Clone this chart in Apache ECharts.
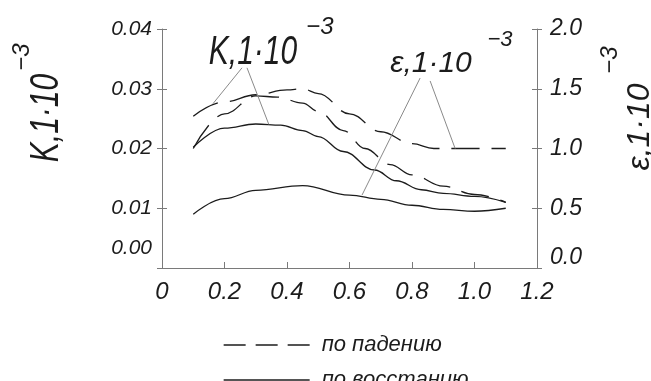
<!DOCTYPE html>
<html>
<head>
<meta charset="utf-8">
<script src="https://cdn.jsdelivr.net/npm/echarts@6/dist/echarts.min.js"></script>
<style>
  html, body { margin: 0; padding: 0; background: #fff; }
  #chart { width: 651px; height: 381px; }
</style>
</head>
<body>
<div id="chart"></div>
<script>
    // x ticks (shared by both value axes below)
    const xTicks = [0, 0.2, 0.4, 0.6, 0.8, 1.0, 1.2];

    // K, по падению (dashed, left axis)
    const xKFall = [0.10, 0.20, 0.30, 0.37, 0.45, 0.50, 0.58, 0.65, 0.73, 0.80, 0.90, 1.00, 1.10];
    const kFall = [0.0200, 0.0258, 0.0288, 0.0286, 0.0276, 0.0262, 0.0230, 0.0200, 0.0173, 0.0156, 0.0137, 0.0123, 0.0110];

    // K, по восстанию (solid, left axis)
    const xKRise = [0.10, 0.20, 0.30, 0.38, 0.45, 0.50, 0.58, 0.68, 0.75, 0.83, 0.90, 1.00, 1.10];
    const kRise = [0.0202, 0.0234, 0.0241, 0.0239, 0.0230, 0.0220, 0.0195, 0.0164, 0.0146, 0.0131, 0.0125, 0.0120, 0.0110];

    // ε, по падению (dashed, right axis)
    const xEFall = [0.10, 0.20, 0.30, 0.40, 0.45, 0.50, 0.60, 0.70, 0.80, 0.87, 0.95, 1.10];
    const eFall = [1.27, 1.39, 1.45, 1.49, 1.50, 1.46, 1.29, 1.14, 1.04, 1.00, 1.00, 1.00];

    // ε, по восстанию (solid, right axis)
    const xERise = [0.10, 0.20, 0.30, 0.45, 0.60, 0.70, 0.80, 0.90, 1.00, 1.10];
    const eRise = [0.45, 0.58, 0.65, 0.69, 0.61, 0.575, 0.525, 0.49, 0.475, 0.50];

    const FONT = "'Liberation Sans', Arial, sans-serif";
    const INK = '#1c1c1c';
    const AXIS = '#7a7a7a';
    const DASH = [28, 12];

    function pairs (xs, ys) {
        return xs.map(function (x, i) { return [x, ys[i]]; });
    }

    function curve (name, xs, ys, axis, dashed) {
        return {
            name: name,
            type: 'line',
            yAxisIndex: axis,
            data: pairs(xs, ys),
            smooth: 0.4,
            smoothMonotone: 'x',
            symbol: 'none',
            showSymbol: false,
            lineStyle: { color: INK, width: 1.3, type: dashed ? DASH : 'solid' },
            itemStyle: { color: INK },
            silent: true,
            z: 3
        };
    }

    function leader (a, b) {
        return [{ coord: a }, { coord: b }];
    }

    function legendRow (name, top, dash) {
        return {
            left: 218,
            top: top,
            itemWidth: 86,
            itemHeight: 14,
            selectedMode: false,
            data: [name],
            itemStyle: { opacity: 0 },
            lineStyle: { type: dash, width: 1.3 },
            textStyle: {
                fontFamily: FONT, fontStyle: 'italic', fontSize: 22,
                color: INK, padding: [0, 0, 0, 7]
            }
        };
    }

    const kRiseSeries = curve('по восстанию', xKRise, kRise, 0, false);
    // leader lines from the in-plot labels to the curves (in left-axis units)
    kRiseSeries.markLine = {
        silent: true,
        symbol: ['none', 'none'],
        label: { show: false },
        lineStyle: { color: '#8a8a8a', width: 1, type: 'solid' },
        data: [
            leader([0.256, 0.0335], [0.163, 0.0275]),
            leader([0.272, 0.0335], [0.342, 0.0240]),
            leader([0.826, 0.0318], [0.640, 0.0122]),
            leader([0.858, 0.0313], [0.938, 0.0200])
        ]
    };

    const chart = echarts.init(document.getElementById('chart'));
    const option = {
        animation: false,
        backgroundColor: '#fff',
        grid: { left: 162, right: 114, top: 29, bottom: 113 },
        legend: [
            legendRow('по падению', 329, [22, 10]),
            legendRow('по восстанию', 364, 'solid')
        ],
        xAxis: {
            type: 'value',
            min: 0,
            max: 1.2,
            interval: 0.2,
            axisLine: { lineStyle: { color: AXIS } },
            axisTick: { inside: true, length: 6, lineStyle: { color: AXIS } },
            splitLine: { show: false },
            axisLabel: {
                margin: 12,
                fontFamily: FONT, fontStyle: 'italic', fontSize: 24, color: INK,
                formatter: function (v) { return v === 0 ? '0' : v.toFixed(1); }
            }
        },
        yAxis: [
            {
                type: 'value', position: 'left', min: 0, max: 0.04, interval: 0.01,
                axisLine: { show: true, lineStyle: { color: AXIS } },
                axisTick: { show: true, length: 5, lineStyle: { color: AXIS } },
                splitLine: { show: false },
                axisLabel: {
                    margin: 10,
                    fontFamily: FONT, fontStyle: 'italic', fontSize: 21, color: INK,
                    formatter: function (v) { return v === 0 ? '{z|0.00}' : v.toFixed(2); },
                    rich: { z: { fontFamily: FONT, fontStyle: 'italic', fontSize: 21, color: INK, padding: [0, 0, 40, 0] } }
                }
            },
            {
                type: 'value', position: 'right', min: 0, max: 2.0, interval: 0.5,
                axisLine: { show: true, lineStyle: { color: AXIS } },
                axisTick: { show: true, length: 5, lineStyle: { color: AXIS } },
                splitLine: { show: false },
                axisLabel: {
                    margin: 13,
                    fontFamily: FONT, fontStyle: 'italic', fontSize: 23, color: INK,
                    formatter: function (v) { return v === 0 ? '{z|0.0}' : v.toFixed(1); },
                    rich: { z: { fontFamily: FONT, fontStyle: 'italic', fontSize: 23, color: INK, padding: [0, 0, 20, 0] } }
                }
            },
            // inner halves of the crossing ticks
            {
                type: 'value', position: 'left', min: 0, max: 0.04, interval: 0.01,
                axisLine: { show: false },
                axisTick: { show: true, inside: true, length: 5, lineStyle: { color: AXIS } },
                axisLabel: { show: false },
                splitLine: { show: false }
            },
            {
                type: 'value', position: 'right', min: 0, max: 2.0, interval: 0.5,
                axisLine: { show: false },
                axisTick: { show: true, inside: true, length: 5, lineStyle: { color: AXIS } },
                axisLabel: { show: false },
                splitLine: { show: false }
            }
        ],
        series: [
            curve('по падению', xKFall, kFall, 0, true),
            kRiseSeries,
            curve('по падению', xEFall, eFall, 1, true),
            curve('по восстанию', xERise, eRise, 1, false)
        ],
        graphic: [
            // in-plot labels
            { type: 'text', x: 253, y: 53, scaleX: 0.75, style: { text: 'K,1·10', font: 'italic 40px ' + FONT, fill: INK, align: 'center', verticalAlign: 'middle' } },
            { type: 'text', x: 320, y: 27, style: { text: '−3', font: 'italic 24px ' + FONT, fill: INK, align: 'center', verticalAlign: 'middle' } },
            { type: 'text', x: 431, y: 64, style: { text: 'ε,1·10', font: 'italic 30px ' + FONT, fill: INK, align: 'center', verticalAlign: 'middle' } },
            { type: 'text', x: 500, y: 40, style: { text: '−3', font: 'italic 22px ' + FONT, fill: INK, align: 'center', verticalAlign: 'middle' } },
            // axis names
            { type: 'text', x: 47, y: 118, rotation: Math.PI / 2, scaleX: 0.75, style: { text: 'K,1·10', font: 'italic 40px ' + FONT, fill: INK, align: 'center', verticalAlign: 'middle' } },
            { type: 'text', x: 22, y: 57, rotation: Math.PI / 2, style: { text: '−3', font: 'italic 24px ' + FONT, fill: INK, align: 'center', verticalAlign: 'middle' } },
            { type: 'text', x: 640, y: 127, rotation: Math.PI / 2, style: { text: 'ε,1·10', font: 'italic 32px ' + FONT, fill: INK, align: 'center', verticalAlign: 'middle' } },
            { type: 'text', x: 610, y: 60, rotation: Math.PI / 2, style: { text: '−3', font: 'italic 24px ' + FONT, fill: INK, align: 'center', verticalAlign: 'middle' } }
        ]
    };
    chart.setOption(option);
</script>
</body>
</html>
